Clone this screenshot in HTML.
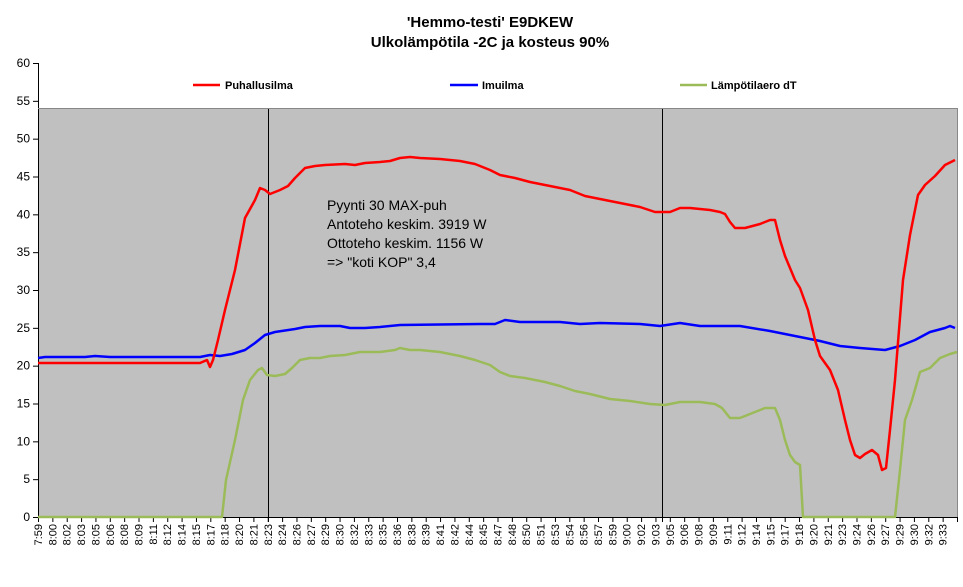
<!DOCTYPE html><html><head><meta charset="utf-8"><style>body{margin:0;background:#fff}svg{display:block;font-family:"Liberation Sans",Arial,sans-serif}</style></head><body>
<svg width="963" height="587" viewBox="0 0 963 587">
<text x="490" y="27" text-anchor="middle" font-size="15" font-weight="bold">'Hemmo-testi' E9DKEW</text>
<text x="490" y="47" text-anchor="middle" font-size="15" font-weight="bold">Ulkolämpötila -2C ja kosteus 90%</text>
<rect x="38" y="108" width="919" height="409" fill="#c0c0c0"/>
<g stroke="#000" stroke-width="1">
<line x1="38.5" y1="63" x2="38.5" y2="517"/>
<line x1="38" y1="517.5" x2="957" y2="517.5"/>
<line x1="268.5" y1="108" x2="268.5" y2="522"/>
<line x1="662.5" y1="108" x2="662.5" y2="522"/>
<line x1="38" y1="108.5" x2="957" y2="108.5" stroke="#888"/>
<line x1="957.5" y1="108" x2="957.5" y2="517" stroke="#888"/>
</g>
<g id="yt" font-size="12" text-anchor="end"></g>
<g id="xt" font-size="11"></g>
<g font-size="11" font-weight="bold">
<line x1="193" y1="85" x2="220" y2="85" stroke="#f00" stroke-width="2.5"/><text x="225" y="89">Puhallusilma</text>
<line x1="450" y1="85" x2="478" y2="85" stroke="#00f" stroke-width="2.5"/><text x="482" y="89">Imuilma</text>
<line x1="680" y1="85" x2="707" y2="85" stroke="#9bbb59" stroke-width="2.5"/><text x="711" y="89">Lämpötilaero dT</text>
</g>
<g font-size="14"><text x="327" y="210">Pyynti  30 MAX-puh</text><text x="327" y="229">Antoteho  keskim. 3919 W</text><text x="327" y="248">Ottoteho  keskim. 1156 W</text><text x="327" y="267">=&gt; "koti KOP" 3,4</text></g>
<g fill="none" stroke-width="2.5" stroke-linejoin="round">
<polyline stroke="#9bbb59" points="38,517 222,517 226,480 235,440 243,400 250,380 258,370 262,368 267,375 275,376 285,374 292,368 300,360 310,358 320,358 330,356 345,355 360,352 380,352 395,350 400,348 410,350 420,350 440,352 460,356 475,360 490,365 500,372 510,376 525,378 545,382 560,386 575,391 590,394 610,399 630,401 650,404 665,405 680,402 700,402 715,404 722,408 730,418 740,418 755,412 765,408 775,408 780,420 785,440 790,455 795,462 800,465 803,517 895,517 900,470 905,420 912,400 920,372 930,368 940,358 950,354 957,352"/>
<polyline stroke="#00f" points="38,358 45,357 85,357 95,356 110,357 200,357 210,355 220,356 232,354 245,350 255,343 265,335 275,332 295,329 305,327 320,326 340,326 350,328 365,328 380,327 400,325 480,324 495,324 505,320 520,322 560,322 580,324 600,323 640,324 660,326 680,323 700,326 740,326 770,331 800,337 820,341 840,346 860,348 885,350 900,346 915,340 930,332 945,328 950,326 955,328"/>
<polyline stroke="#f00" points="38,363 200,363 207,360 210,367 213,360 218,340 225,310 235,270 245,218 255,200 260,188 265,190 270,194 280,190 288,186 295,178 305,168 315,166 325,165 345,164 355,165 365,163 380,162 390,161 400,158 410,157 420,158 440,159 460,161 475,164 490,170 500,175 515,178 530,182 550,186 570,190 585,196 600,199 620,203 640,207 655,212 670,212 680,208 690,208 710,210 720,212 725,214 730,222 735,228 745,228 760,224 770,220 775,220 780,240 785,256 795,280 800,288 808,310 815,340 820,356 830,370 838,390 845,420 850,440 855,455 860,458 865,454 872,450 878,455 882,470 886,468 890,430 895,380 903,280 910,235 918,195 925,185 935,176 945,165 955,160"/>
</g>
</svg>
<script>
var ns="http://www.w3.org/2000/svg",yt=document.getElementById("yt"),xt=document.getElementById("xt");
for(var v=0;v<=60;v+=5){var y=517-v*454/60;var t=document.createElementNS(ns,"text");t.setAttribute("x",30);t.setAttribute("y",y+4);t.textContent=v;yt.appendChild(t);
var l=document.createElementNS(ns,"line");l.setAttribute("x1",33);l.setAttribute("x2",38);l.setAttribute("y1",y+.5);l.setAttribute("y2",y+.5);l.setAttribute("stroke","#000");yt.appendChild(l);}
var labs=["7:59"],m=480;for(var i=0;i<63;i++){labs.push(Math.floor(m/60)+":"+("0"+m%60).slice(-2));m+=(i%2==0?2:1);}
var N=64,W=919/N;
for(var i=0;i<=N;i++){var x=38+i*W;var l=document.createElementNS(ns,"line");l.setAttribute("x1",x+.5);l.setAttribute("x2",x+.5);l.setAttribute("y1",517);l.setAttribute("y2",522);l.setAttribute("stroke","#000");xt.appendChild(l);
if(i<N){var t=document.createElementNS(ns,"text");t.setAttribute("transform","translate("+(x+4)+",524) rotate(-90)");t.setAttribute("text-anchor","end");t.textContent=labs[i];xt.appendChild(t);}}
</script>
</body></html>
